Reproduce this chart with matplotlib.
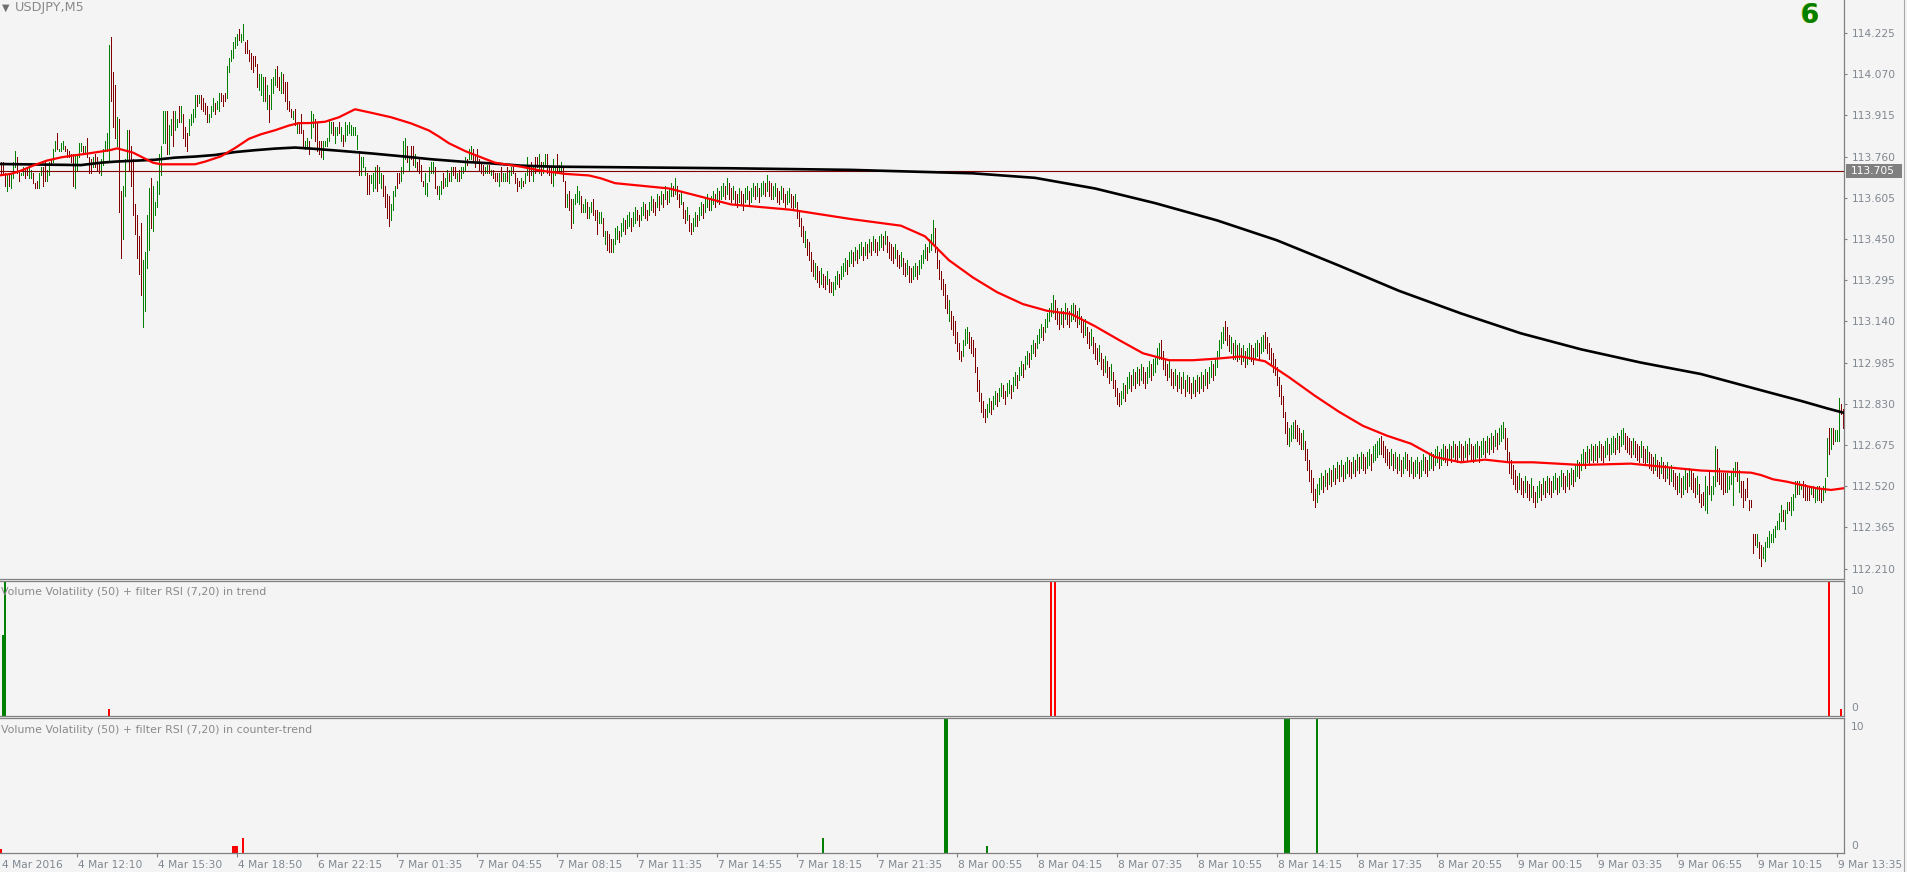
import matplotlib
matplotlib.use('Agg')
import matplotlib.pyplot as plt
import matplotlib.transforms as mtransforms
from matplotlib.collections import LineCollection
from matplotlib.lines import Line2D
from matplotlib.patches import Rectangle

W, H, DPI = 1908, 872, 100
RIGHT = 1844  # pixel where the price scale starts

BG = '#f4f4f4'
FRAME = '#808080'
TEXT = '#7f8790'
UP = '#008000'
DOWN = '#800000'

# M5 bars, index 0 = first bar on screen.
BAR_HIGH = [
    113.74, 113.74, 113.70, 113.69, 113.70, 113.70, 113.74, 113.78, 113.76, 113.71,
    113.70, 113.72, 113.71, 113.72, 113.72, 113.71, 113.70, 113.66, 113.67, 113.70,
    113.72, 113.72, 113.74, 113.71, 113.74, 113.75, 113.79, 113.82, 113.85, 113.79,
    113.81, 113.82, 113.80, 113.79, 113.78, 113.77, 113.77, 113.77, 113.77, 113.81,
    113.81, 113.80, 113.80, 113.83, 113.76, 113.75, 113.76, 113.77, 113.76, 113.74,
    113.75, 113.79, 113.82, 113.85, 114.18, 114.21, 114.08, 114.03, 113.91, 113.90,
    113.63, 113.65, 113.75, 113.86, 113.86, 113.80, 113.75, 113.58, 113.54, 113.46,
    113.51, 113.37, 113.40, 113.54, 113.64, 113.68, 113.65, 113.59, 113.67, 113.77,
    113.80, 113.93, 113.93, 113.93, 113.88, 113.90, 113.93, 113.93, 113.90, 113.95,
    113.95, 113.92, 113.87, 113.85, 113.90, 113.92, 113.94, 113.99, 113.99, 113.99,
    113.99, 113.98, 113.96, 113.95, 113.92, 113.95, 113.98, 113.96, 113.97, 114.00,
    114.00, 113.99, 114.00, 114.10, 114.13, 114.16, 114.19, 114.21, 114.22, 114.24,
    114.22, 114.26, 114.19, 114.20, 114.16, 114.15, 114.14, 114.14, 114.11, 114.07,
    114.07, 114.06, 114.06, 114.03, 113.99, 114.05, 114.06, 114.09, 114.10, 114.06,
    114.08, 114.07, 114.04, 114.04, 113.97, 113.94, 113.93, 113.94, 113.89, 113.89,
    113.92, 113.86, 113.82, 113.83, 113.82, 113.93, 113.92, 113.90, 113.89, 113.82,
    113.82, 113.82, 113.82, 113.83, 113.90, 113.89, 113.89, 113.87, 113.87, 113.89,
    113.87, 113.84, 113.89, 113.88, 113.89, 113.88, 113.87, 113.87, 113.84, 113.78,
    113.76, 113.76, 113.72, 113.70, 113.69, 113.69, 113.70, 113.72, 113.73, 113.72,
    113.70, 113.69, 113.65, 113.62, 113.61, 113.58, 113.63, 113.65, 113.70, 113.70,
    113.72, 113.82, 113.83, 113.80, 113.76, 113.80, 113.80, 113.77, 113.74, 113.75,
    113.73, 113.67, 113.70, 113.66, 113.72, 113.74, 113.74, 113.72, 113.65, 113.65,
    113.67, 113.70, 113.68, 113.71, 113.70, 113.72, 113.72, 113.72, 113.70, 113.71,
    113.72, 113.72, 113.76, 113.75, 113.79, 113.80, 113.79, 113.77, 113.79, 113.75,
    113.74, 113.73, 113.72, 113.73, 113.73, 113.71, 113.71, 113.70, 113.70, 113.70,
    113.72, 113.70, 113.70, 113.72, 113.71, 113.72, 113.72, 113.70, 113.68, 113.67,
    113.68, 113.67, 113.70, 113.76, 113.72, 113.74, 113.72, 113.76, 113.76, 113.77,
    113.74, 113.74, 113.77, 113.77, 113.72, 113.72, 113.75, 113.72, 113.77, 113.73,
    113.74, 113.72, 113.67, 113.62, 113.63, 113.60, 113.60, 113.62, 113.65, 113.63,
    113.61, 113.58, 113.60, 113.59, 113.57, 113.59, 113.60, 113.56, 113.56, 113.55,
    113.55, 113.53, 113.48, 113.48, 113.47, 113.45, 113.45,
    113.49, 113.50, 113.48, 113.51, 113.53, 113.52, 113.54, 113.55, 113.53, 113.55,
    113.57, 113.56, 113.54, 113.57, 113.59, 113.58, 113.56, 113.59, 113.61, 113.60,
    113.59, 113.62, 113.61, 113.63, 113.62, 113.65, 113.63, 113.64, 113.66, 113.65,
    113.68, 113.65, 113.62, 113.63, 113.59, 113.56, 113.57, 113.54, 113.51, 113.53,
    113.55, 113.54, 113.57, 113.59, 113.58, 113.60, 113.62, 113.60, 113.61, 113.63,
    113.62, 113.64, 113.63, 113.65, 113.66, 113.65, 113.68, 113.66, 113.64, 113.65,
    113.63, 113.62, 113.64, 113.63, 113.62, 113.64, 113.65, 113.63, 113.64, 113.66,
    113.65, 113.66, 113.64, 113.66, 113.67, 113.66, 113.69, 113.67, 113.66, 113.65,
    113.66, 113.64, 113.63, 113.65, 113.64, 113.62, 113.63, 113.64, 113.62, 113.61,
    113.62, 113.59, 113.56, 113.53, 113.50, 113.48, 113.45, 113.44, 113.40, 113.37,
    113.36, 113.35, 113.33, 113.34, 113.32, 113.31, 113.33, 113.30, 113.29, 113.29,
    113.31, 113.33, 113.32, 113.35, 113.36, 113.38, 113.37, 113.40, 113.41, 113.40,
    113.42, 113.41, 113.43, 113.44, 113.42, 113.44, 113.43, 113.45, 113.44, 113.46,
    113.45, 113.44, 113.46, 113.47, 113.46, 113.48, 113.46, 113.44, 113.43, 113.42,
    113.43, 113.41, 113.39, 113.40, 113.38, 113.36, 113.37, 113.35, 113.34, 113.35,
    113.36, 113.35, 113.37, 113.39, 113.41, 113.43, 113.42, 113.45, 113.47, 113.52,
    113.49, 113.42, 113.37, 113.33, 113.30, 113.28, 113.24, 113.22, 113.18, 113.16,
    113.14, 113.10, 113.06, 113.03, 113.07, 113.11, 113.12, 113.10, 113.08, 113.07,
    113.04, 112.97, 112.92, 112.87, 112.84, 112.81, 112.83, 112.85, 112.84, 112.86,
    112.88, 112.87, 112.89, 112.91, 112.90, 112.88, 112.91, 112.92, 112.90, 112.93,
    112.95, 112.94, 112.97, 112.99, 112.98, 113.01, 113.03, 113.02, 113.05, 113.07,
    113.06, 113.09, 113.11, 113.13, 113.12, 113.15, 113.17, 113.19, 113.21, 113.24,
    113.22, 113.19, 113.17, 113.19, 113.18, 113.21, 113.19, 113.18, 113.20, 113.21,
    113.20, 113.18, 113.19, 113.16, 113.14, 113.15, 113.12, 113.10, 113.11, 113.08,
    113.06, 113.04, 113.05, 113.02, 113.00, 113.01, 112.99, 112.97, 112.98, 112.95,
    112.92, 112.89, 112.87, 112.88, 112.91, 112.90, 112.93, 112.95, 112.94, 112.96,
    112.95, 112.97, 112.96, 112.98, 112.97, 112.95, 112.97, 112.99, 112.98, 113.00,
    113.01, 113.04, 113.06, 113.07, 113.03, 113.00, 112.98, 112.99, 112.96, 112.95,
    112.96, 112.94, 112.95, 112.93, 112.95, 112.92, 112.94, 112.93, 112.91, 112.93,
    112.92, 112.94, 112.93, 112.95, 112.94, 112.96, 112.95, 112.97, 112.99, 112.98,
    113.00, 113.03, 113.07, 113.10, 113.12, 113.14, 113.12, 113.09, 113.08, 113.06,
    113.07, 113.05, 113.06, 113.04, 113.05, 113.03, 113.04, 113.06, 113.05, 113.04,
    113.06, 113.07, 113.06, 113.08, 113.09, 113.10, 113.08, 113.06, 113.04, 113.02,
    113.00, 112.97, 112.93, 112.90, 112.86, 112.80, 112.76, 112.74, 112.75, 112.76,
    112.77, 112.75, 112.74, 112.72, 112.73, 112.69, 112.66, 112.62, 112.58, 112.55,
    112.51, 112.53, 112.55, 112.57, 112.56, 112.58, 112.57, 112.59, 112.58, 112.60,
    112.59, 112.61, 112.60, 112.62, 112.60, 112.61, 112.63, 112.62, 112.61, 112.63,
    112.62, 112.64, 112.63, 112.65, 112.64, 112.63, 112.65, 112.66, 112.64, 112.67,
    112.68, 112.69, 112.70, 112.71, 112.69, 112.67, 112.66, 112.65, 112.66, 112.64,
    112.65, 112.63, 112.64, 112.62, 112.63, 112.65, 112.64, 112.62, 112.63, 112.61,
    112.62, 112.63, 112.61, 112.62, 112.64, 112.63, 112.62, 112.64, 112.65, 112.64,
    112.66, 112.67, 112.65, 112.66, 112.68, 112.67, 112.66, 112.68, 112.67, 112.69,
    112.68, 112.67, 112.69, 112.68, 112.67, 112.69, 112.68, 112.70, 112.68, 112.67,
    112.68, 112.69, 112.67, 112.69, 112.70, 112.69, 112.71, 112.70, 112.72, 112.71,
    112.73, 112.72, 112.74, 112.75, 112.76, 112.74, 112.70, 112.65, 112.62, 112.60,
    112.58, 112.56, 112.57, 112.55, 112.54, 112.56, 112.54, 112.53, 112.55, 112.52,
    112.50, 112.52, 112.54, 112.53, 112.55, 112.54, 112.56, 112.55, 112.54, 112.56,
    112.57, 112.55, 112.56, 112.58, 112.57, 112.56, 112.58, 112.57, 112.59, 112.58,
    112.60, 112.62, 112.61, 112.64, 112.66, 112.65, 112.67, 112.66, 112.68, 112.67,
    112.68, 112.67, 112.69, 112.68, 112.67, 112.69, 112.70, 112.68, 112.70, 112.71,
    112.70, 112.72, 112.71, 112.73, 112.74, 112.72, 112.71, 112.70, 112.69, 112.70,
    112.69, 112.68, 112.67, 112.69, 112.67, 112.66, 112.67, 112.65, 112.64, 112.63,
    112.64, 112.62, 112.61, 112.63, 112.61, 112.60, 112.61, 112.59, 112.60, 112.58,
    112.57, 112.56, 112.57, 112.55, 112.56, 112.58, 112.57, 112.59, 112.58, 112.57,
    112.55, 112.56, 112.53,
    112.49, 112.50, 112.56, 112.52, 112.58, 112.52, 112.56, 112.67, 112.66, 112.59,
    112.57, 112.57, 112.57, 112.57, 112.56, 112.57, 112.59, 112.61, 112.61, 112.58,
    112.54, 112.54, 112.51, 112.55, 112.47, 112.47, 112.34, 112.34, 112.34, 112.31,
    112.30, 112.29, 112.31, 112.33, 112.35, 112.34, 112.36, 112.37, 112.39, 112.42,
    112.45, 112.43, 112.43, 112.46, 112.46, 112.48, 112.49, 112.54, 112.54, 112.54,
    112.53, 112.54, 112.53, 112.52, 112.52, 112.52, 112.52, 112.51, 112.52, 112.52,
    112.51, 112.52, 112.55, 112.70, 112.74, 112.74, 112.74, 112.73, 112.73, 112.85,
    112.83, 112.81,
]

BAR_LOW = [
    113.70, 113.70, 113.65, 113.63, 113.65, 113.64, 113.68, 113.72, 113.70, 113.67,
    113.69, 113.69, 113.68, 113.69, 113.68, 113.68, 113.66, 113.64, 113.64, 113.64,
    113.69, 113.65, 113.67, 113.67, 113.69, 113.73, 113.74, 113.78, 113.79, 113.78,
    113.78, 113.79, 113.78, 113.76, 113.76, 113.74, 113.65, 113.64, 113.71, 113.76,
    113.78, 113.77, 113.77, 113.76, 113.70, 113.70, 113.72, 113.72, 113.71, 113.70,
    113.69, 113.73, 113.78, 113.78, 113.74, 113.97, 113.87, 113.83, 113.80, 113.55,
    113.38, 113.45, 113.61, 113.75, 113.71, 113.65, 113.54, 113.47, 113.38, 113.32,
    113.24, 113.12, 113.18, 113.34, 113.41, 113.49, 113.48, 113.54, 113.57, 113.62,
    113.69, 113.81, 113.81, 113.77, 113.77, 113.84, 113.80, 113.86, 113.87, 113.89,
    113.89, 113.83, 113.80, 113.78, 113.84, 113.88, 113.89, 113.91, 113.95, 113.96,
    113.94, 113.93, 113.92, 113.89, 113.89, 113.91, 113.93, 113.92, 113.94, 113.93,
    113.97, 113.95, 113.97, 113.98, 114.08, 114.12, 114.13, 114.17, 114.18, 114.20,
    114.19, 114.20, 114.15, 114.15, 114.12, 114.09, 114.08, 114.10, 114.02, 114.01,
    113.99, 113.97, 113.97, 113.94, 113.89, 113.94, 114.00, 114.03, 114.02, 114.01,
    114.00, 114.00, 113.97, 113.94, 113.93, 113.91, 113.90, 113.88, 113.85, 113.85,
    113.85, 113.80, 113.79, 113.80, 113.77, 113.83, 113.87, 113.82, 113.78, 113.77,
    113.76, 113.75, 113.80, 113.80, 113.82, 113.85, 113.84, 113.81, 113.84, 113.85,
    113.82, 113.80, 113.82, 113.84, 113.85, 113.84, 113.84, 113.84, 113.79, 113.69,
    113.69, 113.72, 113.69, 113.62, 113.62, 113.66, 113.63, 113.64, 113.63, 113.66,
    113.64, 113.61, 113.57, 113.53, 113.50, 113.52, 113.56, 113.61, 113.64, 113.66,
    113.67, 113.70, 113.75, 113.74, 113.71, 113.75, 113.73, 113.72, 113.71, 113.70,
    113.67, 113.65, 113.62, 113.61, 113.67, 113.70, 113.70, 113.64, 113.62, 113.60,
    113.62, 113.64, 113.65, 113.65, 113.67, 113.67, 113.69, 113.68, 113.67, 113.67,
    113.68, 113.70, 113.71, 113.73, 113.75, 113.75, 113.74, 113.72, 113.74, 113.71,
    113.70, 113.69, 113.70, 113.70, 113.70, 113.69, 113.68, 113.67, 113.67, 113.65,
    113.67, 113.67, 113.67, 113.67, 113.66, 113.69, 113.70, 113.66, 113.63, 113.65,
    113.64, 113.65, 113.66, 113.69, 113.67, 113.69, 113.67, 113.70, 113.72, 113.70,
    113.69, 113.70, 113.72, 113.70, 113.69, 113.66, 113.65, 113.69, 113.70, 113.70,
    113.70, 113.67, 113.57, 113.57, 113.56, 113.49, 113.51, 113.58, 113.59, 113.58,
    113.55, 113.55, 113.55, 113.53, 113.53, 113.55, 113.54, 113.52, 113.47, 113.51,
    113.51, 113.46, 113.43, 113.41, 113.40, 113.40, 113.40,
    113.43, 113.45, 113.44, 113.46, 113.48, 113.47, 113.49, 113.50, 113.48, 113.50,
    113.51, 113.52, 113.50, 113.52, 113.54, 113.53, 113.52, 113.54, 113.56, 113.55,
    113.54, 113.57, 113.56, 113.58, 113.57, 113.60, 113.58, 113.59, 113.61, 113.61,
    113.62, 113.60, 113.57, 113.58, 113.53, 113.51, 113.52, 113.48, 113.47, 113.48,
    113.50, 113.50, 113.52, 113.54, 113.53, 113.55, 113.57, 113.56, 113.56, 113.58,
    113.57, 113.59, 113.58, 113.60, 113.61, 113.60, 113.62, 113.60, 113.59, 113.60,
    113.58, 113.57, 113.59, 113.58, 113.56, 113.59, 113.60, 113.58, 113.59, 113.61,
    113.60, 113.61, 113.59, 113.61, 113.62, 113.61, 113.63, 113.61, 113.60, 113.60,
    113.61, 113.59, 113.58, 113.60, 113.59, 113.57, 113.58, 113.59, 113.57, 113.56,
    113.57, 113.53, 113.50, 113.46, 113.44, 113.42, 113.39, 113.37, 113.33, 113.31,
    113.30, 113.29, 113.27, 113.28, 113.27, 113.26, 113.28, 113.25, 113.25, 113.24,
    113.26, 113.28, 113.27, 113.30, 113.31, 113.33, 113.32, 113.35, 113.36, 113.35,
    113.37, 113.36, 113.38, 113.39, 113.37, 113.39, 113.38, 113.40, 113.39, 113.41,
    113.40, 113.39, 113.41, 113.42, 113.41, 113.43, 113.40, 113.38, 113.37, 113.36,
    113.38, 113.35, 113.34, 113.35, 113.32, 113.31, 113.32, 113.29, 113.29, 113.30,
    113.31, 113.30, 113.32, 113.34, 113.36, 113.38, 113.37, 113.40, 113.41, 113.43,
    113.40, 113.34, 113.30, 113.26, 113.24, 113.19, 113.17, 113.14, 113.11, 113.09,
    113.06, 113.03, 113.00, 112.99, 113.01, 113.05, 113.06, 113.04, 113.02, 113.01,
    112.95, 112.88, 112.84, 112.80, 112.78, 112.76, 112.78, 112.80, 112.79, 112.81,
    112.83, 112.82, 112.84, 112.86, 112.85, 112.83, 112.86, 112.87, 112.85, 112.88,
    112.90, 112.89, 112.92, 112.94, 112.93, 112.96, 112.98, 112.97, 113.00, 113.02,
    113.01, 113.04, 113.06, 113.08, 113.07, 113.10, 113.12, 113.14, 113.16, 113.17,
    113.15, 113.13, 113.11, 113.13, 113.12, 113.15, 113.13, 113.12, 113.14, 113.15,
    113.14, 113.12, 113.13, 113.10, 113.08, 113.09, 113.06, 113.04, 113.05, 113.02,
    113.00, 112.98, 112.99, 112.96, 112.94, 112.95, 112.93, 112.91, 112.92, 112.89,
    112.86, 112.83, 112.82, 112.83, 112.85, 112.84, 112.87, 112.89, 112.88, 112.90,
    112.89, 112.91, 112.90, 112.92, 112.91, 112.89, 112.91, 112.93, 112.92, 112.94,
    112.95, 112.98, 113.00, 113.00, 112.96, 112.94, 112.92, 112.93, 112.90, 112.89,
    112.90, 112.88, 112.89, 112.87, 112.89, 112.86, 112.88, 112.87, 112.85, 112.87,
    112.86, 112.88, 112.87, 112.89, 112.88, 112.90, 112.89, 112.91, 112.93, 112.92,
    112.94, 112.97, 113.01, 113.04, 113.06, 113.07, 113.05, 113.03, 113.02, 113.00,
    113.00, 112.99, 113.00, 112.98, 112.99, 112.97, 112.98, 113.00, 112.99, 112.98,
    113.00, 113.01, 113.00, 113.02, 113.03, 113.04, 113.02, 113.00, 112.98, 112.95,
    112.94, 112.90, 112.86, 112.83, 112.78, 112.72, 112.68, 112.67, 112.69, 112.70,
    112.70, 112.69, 112.68, 112.66, 112.66, 112.62, 112.58, 112.54, 112.50, 112.47,
    112.44, 112.46, 112.49, 112.51, 112.50, 112.52, 112.51, 112.53, 112.52, 112.54,
    112.53, 112.55, 112.54, 112.56, 112.54, 112.55, 112.57, 112.56, 112.55, 112.57,
    112.56, 112.58, 112.57, 112.59, 112.58, 112.57, 112.59, 112.60, 112.58, 112.61,
    112.62, 112.63, 112.64, 112.64, 112.63, 112.61, 112.60, 112.59, 112.60, 112.58,
    112.59, 112.57, 112.58, 112.56, 112.57, 112.59, 112.58, 112.56, 112.57, 112.55,
    112.56, 112.57, 112.55, 112.56, 112.58, 112.57, 112.56, 112.58, 112.59, 112.58,
    112.60, 112.61, 112.59, 112.60, 112.62, 112.61, 112.60, 112.62, 112.61, 112.63,
    112.62, 112.61, 112.63, 112.62, 112.61, 112.63, 112.62, 112.64, 112.62, 112.61,
    112.62, 112.63, 112.61, 112.63, 112.64, 112.63, 112.65, 112.64, 112.66, 112.65,
    112.67, 112.66, 112.68, 112.69, 112.70, 112.66, 112.62, 112.57, 112.55, 112.53,
    112.51, 112.50, 112.51, 112.49, 112.48, 112.50, 112.48, 112.47, 112.48, 112.46,
    112.44, 112.46, 112.48, 112.47, 112.49, 112.48, 112.50, 112.49, 112.48, 112.50,
    112.51, 112.49, 112.50, 112.52, 112.51, 112.50, 112.52, 112.51, 112.53, 112.52,
    112.54, 112.56, 112.55, 112.58, 112.60, 112.59, 112.61, 112.60, 112.62, 112.61,
    112.62, 112.61, 112.63, 112.62, 112.61, 112.63, 112.64, 112.62, 112.64, 112.65,
    112.64, 112.66, 112.65, 112.67, 112.68, 112.66, 112.65, 112.64, 112.63, 112.64,
    112.63, 112.62, 112.61, 112.63, 112.61, 112.60, 112.61, 112.59, 112.58, 112.57,
    112.58, 112.56, 112.55, 112.57, 112.55, 112.54, 112.55, 112.53, 112.54, 112.52,
    112.51, 112.49, 112.50, 112.48, 112.49, 112.51, 112.50, 112.52, 112.51, 112.50,
    112.48, 112.49, 112.46,
    112.44, 112.45, 112.43, 112.42, 112.49, 112.47, 112.49, 112.52, 112.54, 112.53,
    112.51, 112.49, 112.50, 112.50, 112.51, 112.53, 112.45, 112.56, 112.54, 112.50,
    112.48, 112.44, 112.47, 112.48, 112.43, 112.44, 112.27, 112.30, 112.29, 112.25,
    112.22, 112.25, 112.24, 112.29, 112.29, 112.31, 112.31, 112.33, 112.36, 112.36,
    112.39, 112.39, 112.36, 112.42, 112.43, 112.41, 112.43, 112.48, 112.49, 112.49,
    112.51, 112.48, 112.47, 112.47, 112.47, 112.49, 112.48, 112.46, 112.47, 112.47,
    112.46, 112.47, 112.50, 112.56, 112.64, 112.66, 112.68, 112.69, 112.69, 112.69,
    112.79, 112.74,
]

# U = bull bar (green), D = bear bar (dark red)
BAR_DIR = ''.join([
    'DDDUDUUUDD', 'UUDDUUDDDU', 'UDDUUDUUDU', 'UUDDDDDUUU', 'UDUDDDUDDD',
    'UUUUUDDDUD', 'DUUUDDDDDD', 'DUUUUDUUUU', 'UUUDUUDUUD', 'UDDDUUUUDU',
    'DDDDUUUDUU', 'DDDUUUUUUD', 'UUDDDDDDDU', 'UUDUDUUUDD', 'UDDDDDUDUD',
    'DDUUDUUDDD', 'DUUUUUDUUD', 'UDUUUUUUUD', 'UUUDDUUUDU', 'UDDDDUUUDD',
    'UUUDUDDUDD', 'DDUUUUUDDU', 'UDUUDUDDUD', 'UUUDUUDDDD', 'DDUUDUDDDU',
    'DUUDUUDDDD', 'UDUUDDUDDU', 'DUUDDDUUDU', 'UDDUDDUUUU', 'DUUDUUDDDU',
    'UDUDDDU',
    'UUDUUDUUDU', 'UDDUUDDUUD', 'DUDUDUDUUD', 'UDDUDDUDDU', 'UDUUDUUDUU',
    'DUDUUDUDDU', 'DDUDDUUDUU', 'DUDUUDUDDU', 'UDDUDDUUDD', 'UDDDDUDDDD',
    'UDDUDDUDDU', 'UUDUUUDUUD', 'UDUUDUDUDU', 'DDUUDUDDDD', 'UDDUDDUDDU',
    'UDUUUUDUUU', 'DDDDDDDUDD', 'DDDDUUUDDD', 'DDDDDDUUDU', 'UDUUDDUUDU',
    'UDUUDUUDUU', 'DUUUDUUUUU', 'DDDUDUDDUU', 'DDUDDUDDUD', 'DDUDDUDDUD',
    'DDDUUDUUDU', 'DUDUDDUUDU', 'UUUDDDDUDD', 'UDUDUDUDDU', 'DUDUDUDUUD',
    'UUUUUDDDUD', 'UDUDUDUUDD', 'UUDUUDDDDD', 'DDDDDDDUUU', 'DDDDUDDDDD',
    'DUUUDUDUDU', 'DUDUDUUDDU', 'DUDUDDUUDU', 'UUUDDDDDUD', 'UDUDUUDDUD',
    'UUDUUDDUUD', 'UUDUUDDUDU', 'DDUDDUDUDD', 'UUDUUDUDUD', 'UDUUUDDDDD',
    'DDUDDUDDUD', 'DUUDUDUDDU', 'UDUUDDUDUD', 'UUDUUDUDUD', 'UDUDDUUDUU',
    'DUDUUDDDDU', 'DDDUDDUDDD', 'UDDUDDUDUD', 'DDUDUUDUDD', 'DUD',
    'DDUUDUUUDD', 'DDDUUUUUDU', 'DDDDDDDDUD', 'DUUUUUUUUU', 'UDUUDUUUDU',
    'UDDDDUDUUD', 'DUUUDUDUUU', 'DD',
])

# moving averages, read at selected bars
RED_MA_IDX = [0, 5, 10, 16, 23, 30, 36, 43, 50, 55, 58, 61, 66, 71, 76, 80,
              97, 102, 110, 117, 124, 130, 137, 144, 149, 154, 162, 169, 177,
              185, 195, 205, 214, 219, 224, 232, 237, 247, 260, 270, 282, 294,
              300, 307, 334, 365, 395, 425, 450, 462, 474, 486, 498, 511, 523,
              535, 547, 559, 571, 584, 596, 608, 620, 632, 644, 657, 669, 681,
              693, 705, 717, 730, 742, 754, 766, 790, 815, 839, 850, 875, 880,
              886, 893, 900, 908, 915, 921]
RED_MA = [113.690, 113.695, 113.707, 113.726, 113.745, 113.757, 113.764,
          113.771, 113.779, 113.785, 113.791, 113.785, 113.775, 113.756,
          113.737, 113.731, 113.731, 113.741, 113.761, 113.792, 113.827,
          113.844, 113.859, 113.877, 113.886, 113.886, 113.891, 113.908,
          113.938, 113.925, 113.908, 113.885, 113.858, 113.835, 113.810,
          113.781, 113.766, 113.737, 113.722, 113.707, 113.695, 113.689,
          113.678, 113.660, 113.640, 113.580, 113.560, 113.525, 113.500,
          113.460, 113.370, 113.305, 113.250, 113.205, 113.180, 113.168,
          113.122, 113.070, 113.020, 112.994, 112.994, 113.000, 113.008,
          112.990, 112.930, 112.860, 112.800, 112.747, 112.710, 112.680,
          112.630, 112.610, 112.620, 112.610, 112.610, 112.600, 112.605,
          112.587, 112.579, 112.571, 112.562, 112.546, 112.537, 112.525,
          112.512, 112.506, 112.512]

BLACK_MA_IDX = [0, 40, 50, 57, 77, 87, 97, 107, 117, 127, 137, 147, 157, 169,
                185, 202, 215, 232, 244, 260, 277, 307, 365, 425, 486, 517,
                547, 577, 608, 638, 669, 699, 730, 760, 790, 820, 850, 883,
                900, 913, 921]
BLACK_MA = [113.732, 113.728, 113.737, 113.741, 113.748, 113.756, 113.760,
            113.766, 113.777, 113.784, 113.790, 113.794, 113.789, 113.782,
            113.772, 113.760, 113.750, 113.740, 113.735, 113.726, 113.722,
            113.720, 113.716, 113.710, 113.697, 113.680, 113.640, 113.585,
            113.520, 113.445, 113.350, 113.255, 113.170, 113.095, 113.035,
            112.985, 112.942, 112.875, 112.841, 112.813, 112.797]

HLINE_PRICE = 113.705
PRICE_TICKS = [114.225, 114.070, 113.915, 113.760, 113.605, 113.450, 113.295,
               113.140, 112.985, 112.830, 112.675, 112.520, 112.365, 112.210]
PRICE_MIN, PRICE_MAX = 112.171, 114.349

# indicator histograms (value 10 = full panel height)
TREND_UP_IDX = [1, 2]
TREND_UP_VAL = [6.0, 10.0]
TREND_DN_IDX = [54, 525, 527, 914, 920]
TREND_DN_VAL = [0.5, 10.0, 10.0, 10.0, 0.5]
COUNTER_UP_IDX = [411, 472, 473, 493, 642, 643, 644, 658]
COUNTER_UP_VAL = [1.1, 10.0, 10.0, 0.5, 10.0, 10.0, 10.0, 10.0]
COUNTER_DN_IDX = [0, 116, 117, 118, 121]
COUNTER_DN_VAL = [0.3, 0.5, 0.5, 0.5, 1.1]

TIME_IDX = [0, 38, 78, 118, 158, 198, 238, 278, 318, 358, 398, 438, 478, 518,
            558, 598, 638, 678, 718, 758, 798, 838, 878, 918]
TIME_LABELS = ['4 Mar 2016', '4 Mar 12:10', '4 Mar 15:30', '4 Mar 18:50',
               '6 Mar 22:15', '7 Mar 01:35', '7 Mar 04:55', '7 Mar 08:15',
               '7 Mar 11:35', '7 Mar 14:55', '7 Mar 18:15', '7 Mar 21:35',
               '8 Mar 00:55', '8 Mar 04:15', '8 Mar 07:35', '8 Mar 10:55',
               '8 Mar 14:15', '8 Mar 17:35', '8 Mar 20:55', '9 Mar 00:15',
               '9 Mar 03:35', '9 Mar 06:55', '9 Mar 10:15', '9 Mar 13:35']

FS = 7.7
plt.rcParams['font.family'] = ['DejaVu Sans']


def fx(px):
  return px / W


def fy(py):
  return 1 - py / H


fig = plt.figure(figsize=(W / DPI, H / DPI), dpi=DPI, facecolor=BG)
n_bars = min(len(BAR_HIGH), len(BAR_LOW), len(BAR_DIR))


def add_pane(top, bottom, top_spine=True):
  ax = fig.add_axes([0, fy(bottom), fx(RIGHT), (bottom - top) / H])
  ax.set_facecolor(BG)
  ax.set_xlim(-0.5, n_bars - 0.5)
  ax.spines['left'].set_visible(False)
  ax.spines['top'].set_visible(top_spine)
  for s in ('right', 'bottom', 'top'):
    ax.spines[s].set_color(FRAME)
    ax.spines[s].set_linewidth(0.9)
  ax.set_xticks([])
  ax.set_yticks([])
  return ax


# main price pane
ax = add_pane(0, 579, top_spine=False)
ax.set_ylim(PRICE_MIN, PRICE_MAX)
segs = [[(i, BAR_LOW[i]), (i, BAR_HIGH[i])] for i in range(n_bars)]
cols = [UP if BAR_DIR[i] == 'U' else DOWN for i in range(n_bars)]
ax.add_collection(LineCollection(segs, colors=cols, linewidths=0.5,
                                 antialiaseds=False, zorder=2))
ax.axhline(HLINE_PRICE, color='#800000', lw=0.8, zorder=3)
ax.plot(BLACK_MA_IDX, BLACK_MA, color='black', lw=1.9, zorder=4)
ax.plot(RED_MA_IDX, RED_MA, color='#ff0000', lw=1.6, zorder=5)

ax.yaxis.tick_right()
ax.set_yticks(PRICE_TICKS)
ax.set_yticklabels([f'{v:.3f}' for v in PRICE_TICKS])
ax.tick_params(axis='y', length=2.4, width=0.8, color=FRAME,
               labelcolor=TEXT, labelsize=FS, pad=3)

# current price marker on the scale
yb = (PRICE_MAX - HLINE_PRICE) / (PRICE_MAX - PRICE_MIN) * 579
fig.add_artist(Rectangle((fx(1846), fy(yb + 7)), 56 / W, 14 / H,
                         transform=fig.transFigure, fc='#808080', ec='none',
                         zorder=5))
fig.text(fx(1851), fy(yb), f'{HLINE_PRICE:.3f}', color='white', fontsize=FS,
         ha='left', va='center', zorder=6)

fig.text(fx(2), fy(8), '▼', color='#707070', fontsize=7, ha='left',
         va='center')
fig.text(fx(15), fy(8), 'USDJPY,M5', color='#8a8a8a', fontsize=9.2,
         ha='left', va='center')
fig.text(fx(1808.5), fy(16), '6', color='#c8b000', fontsize=19,
         fontweight='bold', ha='center', va='center')
fig.text(fx(1810), fy(16), '6', color='#008000', fontsize=19,
         fontweight='bold', ha='center', va='center')

# indicator panes
ax1 = add_pane(581, 716)
ax1.set_ylim(0, 10)
ax1.vlines(TREND_UP_IDX, 0, TREND_UP_VAL, colors=UP, lw=1.3,
           antialiased=False)
ax1.vlines(TREND_DN_IDX, 0, TREND_DN_VAL, colors='#ff0000', lw=1.1,
           antialiased=False)
fig.text(fx(1), fy(592), 'Volume Volatility (50) + filter RSI (7,20) in trend',
         color='#8a8a8a', fontsize=7.9, ha='left', va='center')

ax2 = add_pane(718, 853)
ax2.set_ylim(0, 10)
ax2.vlines(COUNTER_UP_IDX, 0, COUNTER_UP_VAL, colors=UP, lw=1.3,
           antialiased=False)
ax2.vlines(COUNTER_DN_IDX, 0, COUNTER_DN_VAL, colors='#ff0000', lw=1.3,
           antialiased=False)
fig.text(fx(1), fy(730),
         'Volume Volatility (50) + filter RSI (7,20) in counter-trend',
         color='#8a8a8a', fontsize=7.9, ha='left', va='center')

for py in (591, 708, 727, 846):
  fig.text(fx(1851), fy(py), '10' if py in (591, 727) else '0', color=TEXT,
           fontsize=FS, ha='left', va='center')

# time axis
ax2.set_xticks(TIME_IDX[1:])
ax2.set_xticklabels([])
ax2.tick_params(axis='x', length=3, width=0.8, color=FRAME, direction='out')
trans = mtransforms.blended_transform_factory(ax2.transData, ax2.transAxes)
for i, lab in zip(TIME_IDX, TIME_LABELS):
  ax2.text(i + 0.5, -0.09, lab, transform=trans, ha='left', va='center',
           fontsize=FS, color=TEXT, clip_on=False)

# window border on the right
fig.add_artist(Line2D([fx(1904), fx(1904)], [0, 1], color='#a8a8a8', lw=0.8,
                      transform=fig.transFigure))

fig.savefig('out.png', dpi=DPI, facecolor=BG)
